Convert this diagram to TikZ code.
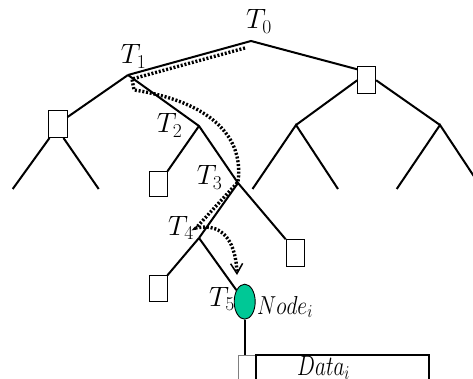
\RequirePackage{fix-cm}
\documentclass[tikz,border=0pt]{standalone}
\usetikzlibrary{arrows.meta,calc,shapes.geometric}
\definecolor{nodegreen}{RGB}{0,200,150}
\tikzset{
  edge/.style={line width=2pt},
  leafbox/.style={draw, line width=1pt, fill=white, rectangle, inner sep=0pt,
                  minimum width=18pt, minimum height=26pt},
  tlabel/.style={inner sep=0pt, anchor=base west, font=\fontsize{28}{28}\selectfont},
  trail/.style={line width=3.4pt, dash pattern=on 2pt off 1.8pt},
  datanode/.style={draw, ellipse, fill=nodegreen, line width=0.9pt, inner sep=0pt,
                   minimum width=21pt, minimum height=35pt},
}
\begin{document}
\begin{tikzpicture}[x=1pt,y=-1pt]
\useasboundingbox (0,0) rectangle (473,379);
\clip (0,0) rectangle (473,379);

% internal tree points
\coordinate (t0) at (251,41);
\coordinate (t1) at (128,75);
\coordinate (t2) at (199,126);
\coordinate (t3) at (238,183);
\coordinate (t4) at (199,238);
\coordinate (m1) at (296,125);
\coordinate (m2) at (440,125);

% leaf ends
\coordinate (la) at (12.7,189);
\coordinate (lb) at (98.7,189);
\coordinate (ma) at (252.5,189);
\coordinate (mb) at (338,189);
\coordinate (mc) at (396.7,189);
\coordinate (md) at (483,190);

% boxes
\node[leafbox, minimum width=18pt, minimum height=27pt] (rbox) at (366.7,80.3) {};
\node[leafbox, minimum width=19pt, minimum height=27pt] (lbox) at (57.5,124) {};
\node[leafbox, minimum height=25pt] (b2) at (158,184.2) {};
\node[leafbox, minimum height=27pt] (b3) at (295.2,253.3) {};
\node[leafbox] (b4) at (158,288.7) {};
\node[datanode] (e5) at (244.7,301.7) {};

% tree edges
\draw[edge] (t1) -- (t0) -- ([yshift=-3pt]rbox.north west);
\draw[edge] (rbox.west) -- (m1);
\draw[edge] (rbox.east) -- (m2);
\draw[edge] (ma) -- (m1) -- (mb);
\draw[edge] (mc) -- (m2) -- (md);
\draw[edge] (t1) -- (lbox);
\draw[edge] ($(lbox.south west)+(2,0)$) -- (la);
\draw[edge] ($(lbox.south east)+(-4,0)$) -- (lb);
\draw[edge] (t1) -- (t2) -- (t3) -- (t4);
\draw[edge] (t2) -- (b2.north east);
\draw[edge] (t3) -- (b3.north west);
\draw[edge] (t4) -- (b4.north east);
\draw[edge] (t4) -- (e5);

% data record
\node[draw=gray, line width=0.7pt, fill=white, inner sep=0pt, minimum width=17.7pt,
      minimum height=40pt] (dkey) at (247.2,375) {};
\node[draw, line width=1.4pt, inner sep=0pt, minimum width=173pt,
      minimum height=40pt] (dbody) at (342.5,375) {};
\draw[edge] (e5.south) -- (e5.south |- dkey.north);
\node[inner sep=0pt, anchor=base, font=\fontsize{28}{28}\selectfont] (dtext) at (323.5,375)
  {\scalebox{0.76}[1]{$Data_i$}};

% search trail
\coordinate (s0) at (245,48);
\coordinate (s1) at (132,79);
\coordinate (s2) at (134,90);
\coordinate (s3) at (238,182);
\coordinate (s4) at (196,228);
\coordinate (s5) at (237,275);
\draw[trail, -{Straight Barb[length=10pt, width=12pt, line width=1.5pt]}]
  (s0) -- (s1) -- (s2) .. controls (200,100) and (245,130) .. (s3)
  -- (s4) .. controls (225,222) and (236,245) .. (s5);

% labels
\node[tlabel] (l0) at (246,29) {$T_0$};
\node[tlabel] (l1) at (120.7,64) {$T_1$};
\node[tlabel] (l2) at (156.7,133) {$T_2$};
\node[tlabel] (l3) at (196.7,185) {$T_3$};
\node[tlabel] (l4) at (168,235) {$T_4$};
\node[tlabel] (l5) at (209,306.7) {$T_5$};
\node[inner sep=0pt, anchor=base west, font=\fontsize{26}{26}\selectfont] (lnode) at (257,314)
  {\scalebox{0.83}[1]{$Node_i$}};
\end{tikzpicture}
\end{document}
